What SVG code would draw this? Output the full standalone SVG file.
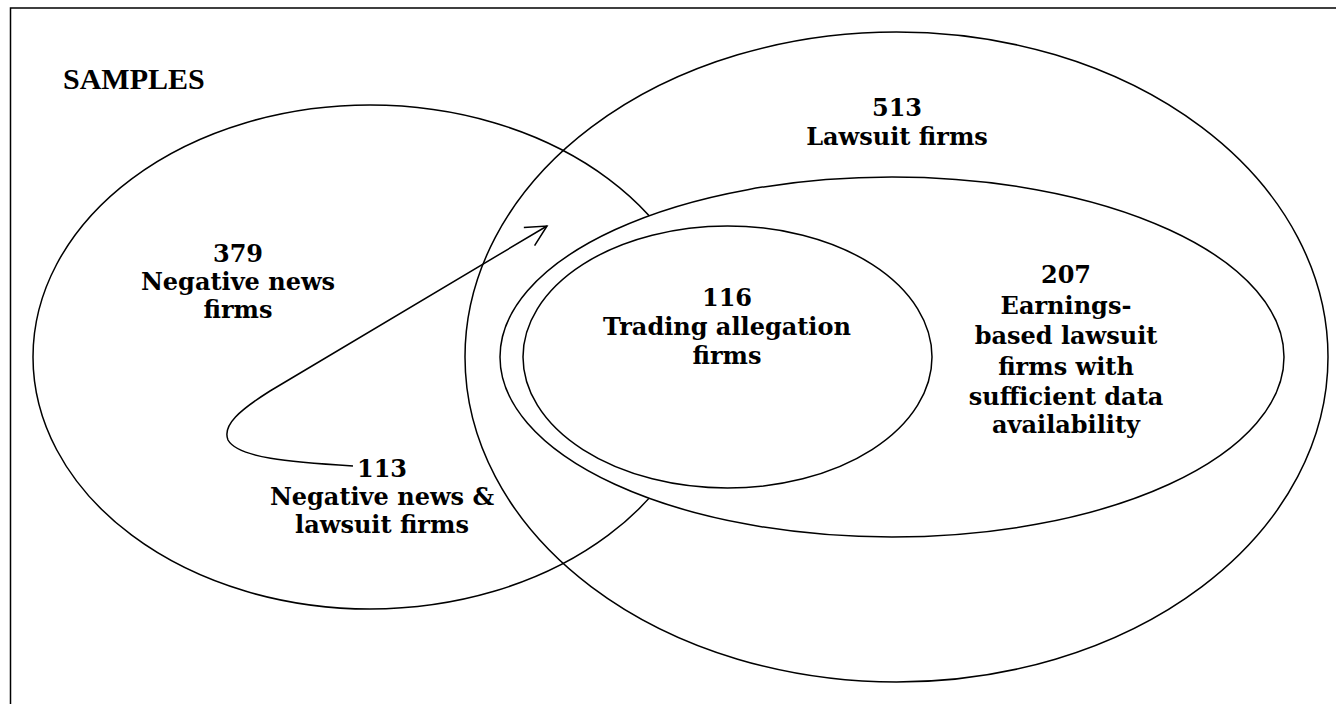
<svg xmlns="http://www.w3.org/2000/svg" width="1336" height="704" viewBox="0 0 1336 704">
<style>
.set{fill:none;stroke:#000;stroke-width:1.5}
.inner{fill:#fff;stroke:#000;stroke-width:1.5}
.t{font-family:"DejaVu Serif","Liberation Serif",serif;font-weight:bold;font-size:24px;fill:#000;text-anchor:middle}
.title{font-family:"Liberation Serif","Times New Roman",serif;font-weight:bold;font-size:30px;fill:#000}
.frame{fill:none;stroke:#000;stroke-width:1.5}
</style>
<defs>
<marker id="arr" markerUnits="userSpaceOnUse" markerWidth="30" markerHeight="30" refX="0" refY="0" viewBox="-25 -15 30 30" orient="auto" overflow="visible">
<path d="M-20.7,-10.5 L0,0 L-20.7,10.5" fill="none" stroke="#000" stroke-width="1.5"/>
</marker>
</defs>
<rect x="10.5" y="8" width="1340" height="720" class="frame"/>
<text x="63" y="89" class="title">SAMPLES</text>
<g id="negative-news">
<ellipse cx="370" cy="357" rx="337" ry="252" class="set"/>
</g>
<g id="lawsuit">
<ellipse cx="896.5" cy="357" rx="431.5" ry="325" class="set"/>
</g>
<g id="earnings-based">
<ellipse cx="892" cy="357" rx="392" ry="180" class="inner"/>
</g>
<g id="trading">
<ellipse cx="727.5" cy="357" rx="204.5" ry="131" class="set"/>
</g>
<g id="labels">
<text class="t" x="238" y="262">379</text>
<text class="t" x="238" y="290">Negative news</text>
<text class="t" x="238" y="318">firms</text>
<text class="t" x="897" y="116">513</text>
<text class="t" x="897" y="145">Lawsuit firms</text>
<text class="t" x="727" y="306">116</text>
<text class="t" x="727" y="335">Trading allegation</text>
<text class="t" x="727" y="364">firms</text>
<text class="t" x="1066" y="283">207</text>
<text class="t" x="1066" y="314">Earnings-</text>
<text class="t" x="1066" y="344">based lawsuit</text>
<text class="t" x="1066" y="375">firms with</text>
<text class="t" x="1066" y="405">sufficient data</text>
<text class="t" x="1066" y="433">availability</text>
<text class="t" x="382" y="477">113</text>
<text class="t" x="382" y="505">Negative news &amp;</text>
<text class="t" x="382" y="533">lawsuit firms</text>
</g>
<g id="connectors">
<path d="M353,466 C290,462 238,458 228,440 C222,425 240,410 270,391 L547,226" fill="none" stroke="#000" stroke-width="1.5" marker-end="url(#arr)"/>
</g>
</svg>
